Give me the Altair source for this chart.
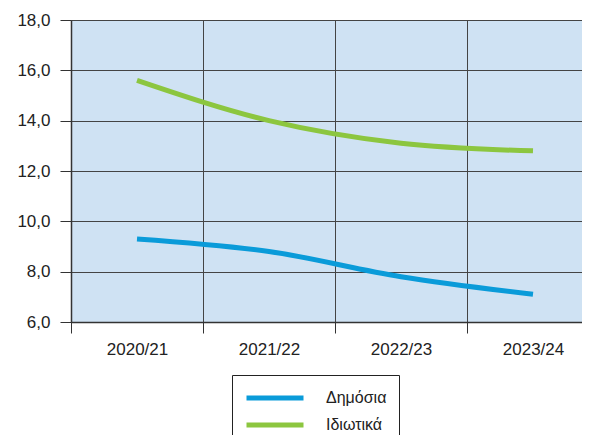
import altair as alt
import pandas as pd

years = ["2020/21", "2021/22", "2022/23", "2023/24"]
series = ["Δημόσια", "Ιδιωτικά"]
public_vals = [9.3, 8.8, 7.8, 7.1]
private_vals = [15.6, 14.0, 13.1, 12.8]
colors = ["#0a9bd9", "#8cc63f"]
y_ticks = [6, 8, 10, 12, 14, 16, 18]

# category slot centres (band layout): category i sits at i + 0.5
pos = [i + 0.5 for i in range(len(years))]
x_vals = sorted([float(i) for i in range(len(years))] + pos)

df = pd.DataFrame({
    "pos": pos * 2,
    "year": years * 2,
    "type": [series[0]] * len(years) + [series[1]] * len(years),
    "value": public_vals + private_vals,
})

FONT = "Liberation Sans"
PLOT_W = 511
BAND = 132
year_arr = "[" + ",".join("'" + y + "'" for y in years) + "]"
label_expr = f"(datum.value % 1) > 0.25 ? {year_arr}[floor(datum.value)] : ''"
int_only = {"condition": {"test": "(datum.value % 1) < 0.25", "value": 1}, "value": 0}

chart = alt.Chart(df).mark_line(strokeWidth=5, interpolate="monotone", strokeCap="butt").encode(
    x=alt.X(
        "pos:Q",
        scale=alt.Scale(domain=[0, PLOT_W / BAND], nice=False, zero=False),
        axis=alt.Axis(
            title=None, values=x_vals, labelExpr=label_expr, labelFlush=False,
            labelOverlap=False, labelAngle=0, grid=True,
            gridColor="#444", gridWidth=1, gridOpacity=int_only,
            tickColor="#333", tickSize=11, tickOpacity=int_only,
            domainColor="#333", domainWidth=1.5, labelFontSize=17, labelColor="#222",
            labelPadding=8, labelFont=FONT,
        ),
    ),
    y=alt.Y(
        "value:Q",
        scale=alt.Scale(domain=[6, 18], nice=False, zero=False),
        axis=alt.Axis(
            title=None, values=y_ticks,
            labelExpr="replace(format(datum.value, '.1f'), '.', ',')",
            grid=True, gridColor="#444", gridWidth=1, tickColor="#333", tickSize=11,
            domainColor="#333", domainWidth=1.5, labelFontSize=17, labelColor="#222",
            labelPadding=10, labelFont=FONT,
        ),
    ),
    color=alt.Color(
        "type:N",
        sort=series,
        scale=alt.Scale(domain=series, range=colors),
        legend=alt.Legend(
            title=None, orient="none", legendX=161, legendY=355,
            symbolType="stroke", symbolSize=3249, symbolStrokeWidth=5,
            strokeColor="#222", fillColor="white", padding=12,
            labelFontSize=16, labelColor="#222", labelFont=FONT, labelOffset=20,
            clipHeight=22, rowPadding=5,
        ),
    ),
    order=alt.Order("pos:Q"),
).properties(
    width=PLOT_W,
    height=302,
    autosize=alt.AutoSizeParams(type="none"),
    padding={"left": 63, "top": 12, "right": 0, "bottom": 113},
).configure(
    font=FONT, background="white"
).configure_view(
    fill="#cfe2f3", stroke=None
)

chart.save("out.html", embed_options={"renderer": "svg", "actions": False})
